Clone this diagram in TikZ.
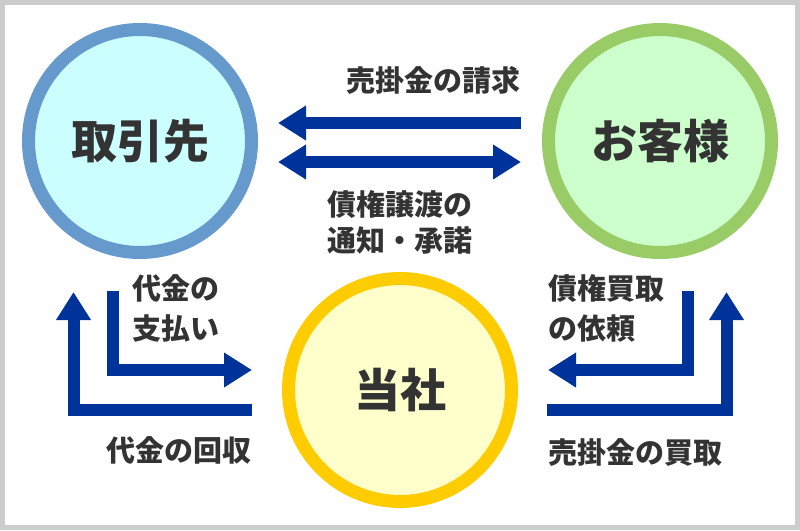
\documentclass[tikz,border=0pt]{standalone}
\usepackage{fontspec}
\setmainfont{Noto Sans CJK JP}
\usetikzlibrary{positioning,arrows.meta}
\definecolor{frame}{HTML}{CCCCCC}
\definecolor{ink}{HTML}{333333}
\definecolor{flow}{HTML}{003399}
\definecolor{blueline}{HTML}{6699CC}
\definecolor{bluefill}{HTML}{CCFFFF}
\definecolor{greenline}{HTML}{99CC66}
\definecolor{greenfill}{HTML}{CCFFCC}
\definecolor{yellowline}{HTML}{FFCC00}
\definecolor{yellowfill}{HTML}{FFFFCC}
\tikzset{
  party/.style={circle, line width=13pt, minimum size=223pt, inner sep=0pt,
    text=ink, font=\bfseries\fontsize{46}{50}\selectfont},
  flowarr/.style={draw=flow, line width=12pt, -{Triangle[length=28pt,width=33pt]}},
  lbl/.style={text=ink, inner sep=0pt, font=\bfseries\fontsize{29}{36}\selectfont},
  lbltall/.style={lbl, font=\bfseries\fontsize{29}{40}\selectfont}
}

\begin{document}
\begin{tikzpicture}[x=1pt, y=-1pt, node distance=520pt, on grid]
		\useasboundingbox (0,0) rectangle (800,530);
		\fill[frame] (0,0) rectangle (800,530);
		\fill[white] (5,5) rectangle (795,525);

		\node[party, draw=blueline, fill=bluefill] (tori) at (140,141) {取引先};
		\node[party, draw=greenline, fill=greenfill] (kyaku) [right=of tori] {お客様};
		\node[party, draw=yellowline, fill=yellowfill] (tosha) at (400,390) {当社};

		% top pair
		\coordinate (seiR) at (521,123);
		\coordinate (seiL) at (278,123);
		\coordinate (jotL) at (278,162);
		\coordinate (jotR) at (521,162);
		\draw[flowarr] (seiR) -- (seiL);
		\draw[flowarr, {Triangle[length=28pt,width=33pt]}-{Triangle[length=28pt,width=33pt]}] (jotL) -- (jotR);

		% left side
		\coordinate (kaiS) at (252,410);
		\coordinate (kaiE) at (73.5,292);
		\coordinate (shiS) at (113,291);
		\coordinate (shiE) at (252,370);
		\draw[flowarr] (kaiS) -| (kaiE);
		\draw[flowarr] (shiS) |- (shiE);

		% right side
		\coordinate (iraS) at (688,291);
		\coordinate (iraE) at (548,370);
		\coordinate (kaS) at (547,410);
		\coordinate (kaE) at (726.5,292);
		\draw[flowarr] (iraS) |- (iraE);
		\draw[flowarr] (kaS) -| (kaE);

		\node[lbl, anchor=east] (seikyu) at (521,80) {売掛金の請求};
		\node[lbl, align=center] (joto) at (400,222) {債権譲渡の\\通知・承諾};
		\node[lbltall, align=left, anchor=west] (shiharai) at (132,308) {代金の\\支払い};
		\node[lbl, anchor=east] (kaishu) at (252,450) {代金の回収};
		\node[lbltall, align=left, anchor=west] (irai) at (548,308) {債権買取\\の依頼};
		\node[lbl, anchor=west] (kaitori) at (548,452) {売掛金の買取};
	\end{tikzpicture}
\end{document}
